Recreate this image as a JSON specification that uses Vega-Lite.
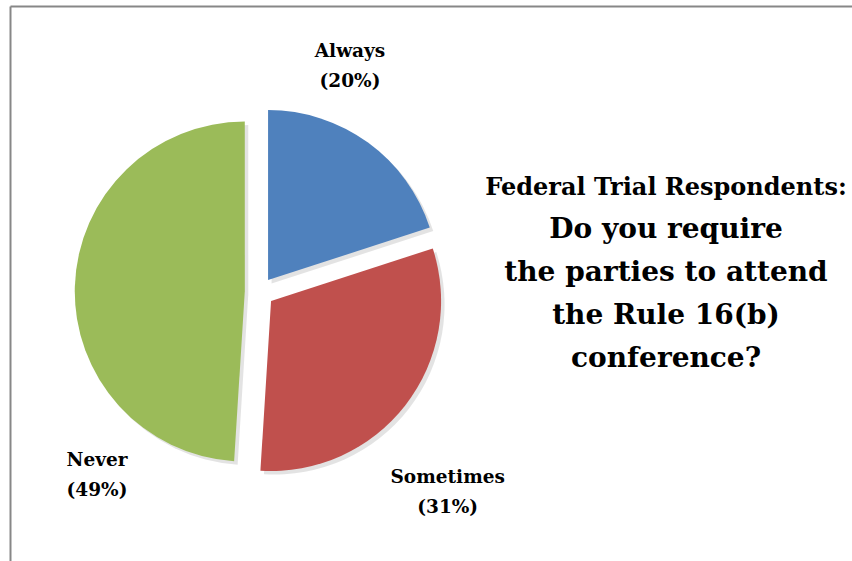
{
  "$schema": "https://vega.github.io/schema/vega-lite/v6.json",
  "width": 842,
  "height": 555,
  "autosize": {"type": "none"},
  "padding": {"left": 10, "top": 6, "right": 0, "bottom": 0},
  "background": "white",
  "config": {"view": {"stroke": null}},
  "title": {
    "text": "Federal Trial Respondents:",
    "subtitle": ["Do you require", "the parties to attend", "the Rule 16(b)", "conference?"],
    "anchor": "start",
    "align": "center",
    "dx": 656,
    "dy": 367,
    "offset": 0,
    "font": "DejaVu Serif",
    "fontSize": 24,
    "fontWeight": "bold",
    "color": "#000000",
    "subtitleFont": "DejaVu Serif",
    "subtitleFontSize": 28,
    "subtitleFontWeight": "bold",
    "subtitleColor": "#000000",
    "subtitleLineHeight": 43,
    "subtitlePadding": 16
  },
  "data": {
    "values": [
      {"category": "Always", "value": 20},
      {"category": "Sometimes", "value": 31},
      {"category": "Never", "value": 49}
    ]
  },
  "transform": [
    {"stack": "value", "groupby": [], "sort": [{"field": "value", "order": "ascending"}], "as": ["v0", "v1"]},
    {"calculate": "[datum.category, '(' + datum.value + '%)']", "as": "label"}
  ],
  "encoding": {
    "x": {"datum": 29.63, "type": "quantitative", "scale": {"domain": [0, 100]},
      "axis": {"orient": "top", "domainColor": "#878787", "domainWidth": 2, "ticks": false, "labels": false, "grid": false, "title": null}},
    "y": {"datum": 51.53, "type": "quantitative", "scale": {"domain": [0, 100], "reverse": true},
      "axis": {"orient": "left", "domainColor": "#878787", "domainWidth": 2, "ticks": false, "labels": false, "grid": false, "title": null}},
    "theta": {"field": "v0", "type": "quantitative", "scale": {"domain": [0, 100]}},
    "theta2": {"field": "v1"}
  },
  "layer": [
    {
      "transform": [{"filter": "datum.category === 'Always'"}],
      "layer": [
        {"mark": {"type": "arc", "radius": 170, "xOffset": 12.1, "yOffset": -8.4, "color": "#000000", "opacity": 0.11}},
        {"mark": {"type": "arc", "radius": 170, "xOffset": 8.6, "yOffset": -11.9},
          "encoding": {"color": {"field": "category", "type": "nominal", "scale": {"domain": ["Always", "Sometimes", "Never"], "range": ["#4F81BD", "#C0504D", "#9BBB59"]}, "legend": null}}}
      ]
    },
    {
      "transform": [{"filter": "datum.category === 'Sometimes'"}],
      "layer": [
        {"mark": {"type": "arc", "radius": 170, "xOffset": 15.1, "yOffset": 12.5, "color": "#000000", "opacity": 0.11}},
        {"mark": {"type": "arc", "radius": 170, "xOffset": 11.6, "yOffset": 9},
          "encoding": {"color": {"field": "category", "type": "nominal", "legend": null}}}
      ]
    },
    {
      "transform": [{"filter": "datum.category === 'Never'"}],
      "layer": [
        {"mark": {"type": "arc", "radius": 170, "xOffset": -11.2, "yOffset": 3, "color": "#000000", "opacity": 0.11}},
        {"mark": {"type": "arc", "radius": 170, "xOffset": -14.7, "yOffset": -0.5},
          "encoding": {"color": {"field": "category", "type": "nominal", "legend": null}}}
      ]
    },
    {
      "transform": [{"filter": "datum.category === 'Always'"}],
      "mark": {"type": "text", "radius": 235, "dx": 90.5, "dy": 0, "align": "center", "baseline": "alphabetic", "font": "DejaVu Serif", "fontSize": 18.5, "fontWeight": "bold", "lineHeight": 30, "color": "#000000"},
      "encoding": {"theta": {"field": "v0", "type": "quantitative"}, "text": {"field": "label"}}
    },
    {
      "transform": [{"filter": "datum.category === 'Sometimes'"}],
      "mark": {"type": "text", "radius": 200, "dx": -2, "dy": 253, "align": "center", "baseline": "alphabetic", "font": "DejaVu Serif", "fontSize": 18.5, "fontWeight": "bold", "lineHeight": 30, "color": "#000000"},
      "encoding": {"theta": {"field": "v0", "type": "quantitative"}, "text": {"field": "label"}}
    },
    {
      "transform": [{"filter": "datum.category === 'Never'"}],
      "mark": {"type": "text", "radius": 175, "dx": -151.5, "dy": -0.7, "align": "center", "baseline": "alphabetic", "font": "DejaVu Serif", "fontSize": 18.5, "fontWeight": "bold", "lineHeight": 30, "color": "#000000"},
      "encoding": {"theta": {"field": "v0", "type": "quantitative"}, "text": {"field": "label"}}
    }
  ]
}
